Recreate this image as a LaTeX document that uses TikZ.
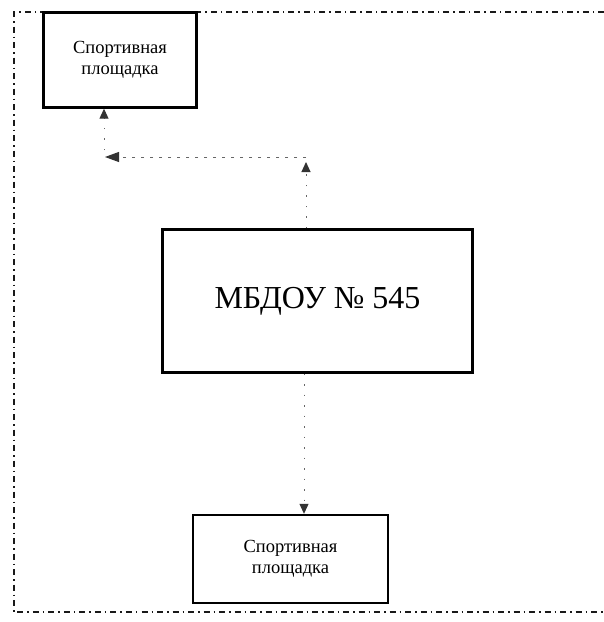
\documentclass[tikz,border=0pt]{standalone}
\usepackage{fontspec}
\setmainfont{Liberation Serif}
\usetikzlibrary{arrows.meta}
\begin{document}
\begin{tikzpicture}[x=1pt,y=-1pt,
  smallbox/.style={draw=black, line width=2.4pt, minimum width=153pt, minimum height=95pt, inner sep=0pt, align=center, font=\fontsize{18.5}{21}\selectfont},
  bigbox/.style={draw=black, line width=2.4pt, minimum width=310pt, minimum height=143pt, inner sep=0pt, font=\fontsize{32}{36}\selectfont},
  link/.style={draw=black!60, line width=1pt, dash pattern=on 1.5pt off 9pt, -{Triangle[length=10pt,width=9pt,fill=black!80,color=black!80]}},
  hlink/.style={draw=black!60, line width=1pt, dash pattern=on 3pt off 6pt, -{Triangle[length=14pt,width=10pt,fill=black!80,color=black!80]}},
  frame/.style={draw=black!90, line width=2.4pt, dash pattern=on 6pt off 4pt on 1.5pt off 4pt}]
\useasboundingbox (0,0) rectangle (604,622);
\fill[white] (0,0) rectangle (604,622);
\draw[frame] (604,12) -- (14,12) -- (14,612) -- (604,612);
\node[smallbox] (top) at (120,60) {\raisebox{-4pt}{\parbox{140pt}{\centering Спортивная\\площадка}}};
\node[bigbox] (main) at (317.5,301) {МБДОУ № 545};
\node[smallbox, minimum width=195pt, minimum height=88pt] (bottom) at (290.5,559) {\raisebox{-6pt}{\parbox{180pt}{\centering Спортивная\\площадка}}};
\coordinate (c1) at (306,162);
\coordinate (c2) at (306,157);
\coordinate (c3) at (105,157);
\coordinate (c4) at (104,150);
\draw[link] (main.north -| c1) -- (c1);
\draw[hlink] (c2) -- (c3);
\draw[link] (c4) -- (c4 |- top.south);
\draw[link] (main.south -| 304,0) -- (bottom.north -| 304,0);
\end{tikzpicture}
\end{document}
